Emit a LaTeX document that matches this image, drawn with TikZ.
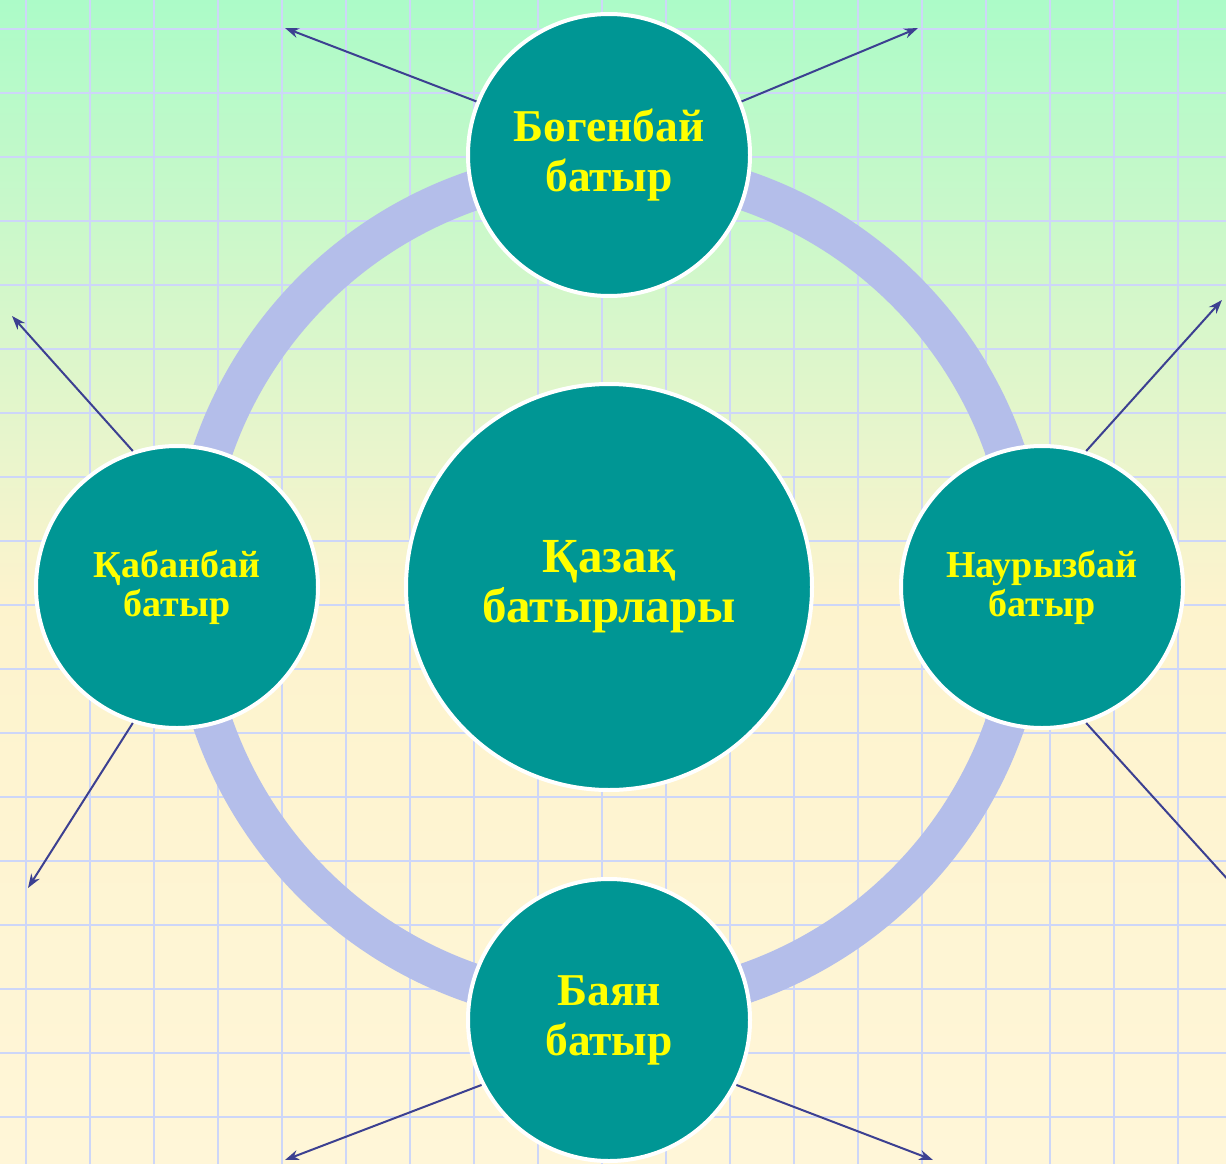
\documentclass[tikz,border=0pt]{standalone}
\usepackage{fontspec}
\setmainfont{Liberation Serif}
\usetikzlibrary{arrows.meta}
\definecolor{bgtop}{RGB}{172,251,200}
\definecolor{bgmid}{RGB}{253,243,205}
\definecolor{bgbot}{RGB}{255,246,216}
\definecolor{gridc}{RGB}{205,214,248}
\definecolor{ringc}{RGB}{180,190,234}
\definecolor{tealc}{RGB}{0,150,148}
\definecolor{arrc}{RGB}{60,64,145}
\definecolor{txtc}{RGB}{255,255,0}
\tikzset{
  hero/.style={circle, fill=tealc, draw=white, line width=4pt, minimum size=282pt, inner sep=0pt, align=center, text=txtc, font=\bfseries\fontsize{45.5}{50}\selectfont},
  herosmall/.style={hero, font=\bfseries\fontsize{38}{39}\selectfont},
  hub/.style={hero, minimum size=406pt, font=\bfseries\fontsize{49}{50}\selectfont},
  link/.style={draw=arrc, line width=2pt, -{Stealth[length=14pt,width=10pt]}},
  ringline/.style={draw=ringc, line width=40pt},
  gridline/.style={draw=gridc, line width=2.4pt}
}
\begin{document}
\begin{tikzpicture}[x=1pt,y=-1pt]
\useasboundingbox (0,0) rectangle (1226,1164);
\clip (0,0) rectangle (1226,1164);
% background
\shade[top color=bgtop, bottom color=bgmid] (0,0) rectangle (1226,600);
\shade[top color=bgmid, bottom color=bgbot] (0,600) rectangle (1226,1164);
% grid
\foreach \i in {0,...,18} { \draw[gridline] (26+64*\i,0) -- (26+64*\i,1164); }
\foreach \j in {0,...,17} { \draw[gridline] (0,29+64*\j) -- (1226,29+64*\j); }
% ring
\coordinate (c0) at (609,587);
\draw[ringline] (c0) circle[radius=419pt];
% circles
\node[hub] (hub) at (609,587) {Қазақ\\батырлары};
\node[hero] (bog) at (609,155) {Бөгенбай\\батыр};
\node[herosmall] (kab) at (177,587) {Қабанбай\\батыр};
\node[herosmall] (nau) at (1042,587) {Наурызбай\\батыр};
\node[hero] (bay) at (609,1020) {Баян\\батыр};
% arrow end points
\coordinate (e1) at (285,28);
\coordinate (e2) at (918,28);
\coordinate (e3) at (1222,300);
\coordinate (e4) at (1240,893);
\coordinate (e5) at (12,316);
\coordinate (e6) at (28,888);
\coordinate (e7) at (285,1160);
\coordinate (e8) at (933,1160);
% arrows
\draw[link] (bog.158) -- (e1);
\draw[link] (bog.22) -- (e2);
\draw[link] (nau.72) -- (e3);
\draw[link] (nau.-72) -- (e4);
\draw[link] (kab.108) -- (e5);
\draw[link] (kab.-108) -- (e6);
\draw[link] (bay.-153) -- (e7);
\draw[link] (bay.-27) -- (e8);
\end{tikzpicture}
\end{document}
